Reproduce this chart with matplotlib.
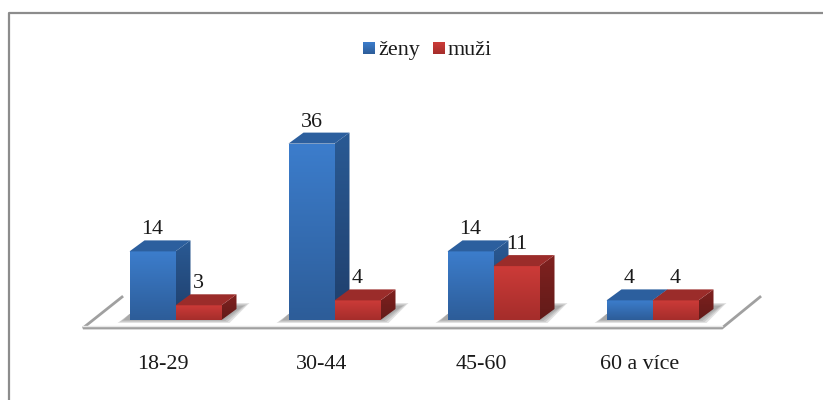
import numpy as np
import matplotlib
matplotlib.use('Agg')
import matplotlib.pyplot as plt
from matplotlib.colors import LinearSegmentedColormap
from matplotlib.patches import Polygon, Rectangle

categories = ['18-29', '30-44', '45-60', '60 a více']
zeny = [14, 36, 14, 4]
muzi = [3, 4, 11, 4]

plt.rcParams['font.family'] = ['Liberation Serif', 'DejaVu Serif']

W, H = 823, 400
px_x = 159.0 # pixels for one category
px_y = 4.9 # pixels for one person
x0, y0 = 175.5, 320 # where first group / zero line sit
bar_w = 46 / px_x
dx = 15 / px_x # 3d depth
dy = 11 / px_y
fs = 15.8
txt = '#1a1a1a'


def X(px):
    return (px - x0) / px_x


def Y(py):
    return (y0 - py) / px_y


def gradient(patch, c_top, c_bot, ext, z):
    # fills a patch with a vertical gradient
    cm = LinearSegmentedColormap.from_list('g', [c_top, c_bot])
    im = ax.imshow(np.linspace(0, 1, 64).reshape(-1, 1), cmap=cm, aspect='auto',
                   extent=ext, origin='upper', zorder=z, interpolation='bilinear')
    im.set_clip_path(patch)


def bar3d(x, v, front, side, top, z):
    # front face from the library's bar, side and top added as polygons
    b = ax.bar(x, v, width=bar_w, align='edge', color='none', linewidth=0, zorder=z)[0]
    gradient(b, front[0], front[1], [x, x + bar_w, 0, v], z)
    s = Polygon([(x + bar_w, 0), (x + bar_w + dx, dy), (x + bar_w + dx, v + dy), (x + bar_w, v)],
                closed=True, fc='none', ec='none', zorder=z)
    ax.add_patch(s)
    gradient(s, side[0], side[1], [x + bar_w, x + bar_w + dx, 0, v + dy], z)
    ax.add_patch(Polygon([(x, v), (x + dx, v + dy), (x + bar_w + dx, v + dy), (x + bar_w, v)],
                         closed=True, fc=top, ec='none', zorder=z))


fig = plt.figure(figsize=(W / 100, H / 100), dpi=100)
ax = fig.add_axes([0, 0, 1, 1])
ax.axis('off')

# outer border, only top and left are visible in the picture
ax.plot([X(9), X(9), X(823)], [Y(400), Y(13), Y(13)], color='#8c8c8c', lw=1.6, zorder=0)

# floor
ax.plot([X(122), X(83), X(722), X(760)], [Y(297), Y(328), Y(328), Y(297)], color='#a0a0a0', lw=2,
        solid_joinstyle='miter', zorder=1)
ax.plot([X(83), X(722)], [Y(326), Y(326)], color='#e8e8e8', lw=1, zorder=1)

blue = dict(front=('#3c7dcc', '#2d5d99'), side=('#2a5a94', '#1f3f6c'), top='#2c5f9e')
red = dict(front=('#cc3b38', '#a52d2b'), side=('#80211f', '#621b19'), top='#9b2c2a')

for i, (a, b) in enumerate(zip(zeny, muzi)):
    # soft shadow on floor, several thin layers
    for grow in [6, 4, 2, 0]:
        ax.add_patch(Polygon([(i - bar_w - (6 + grow) / px_x, Y(320 + grow / 2)),
                              (i + bar_w + (2 + grow) / px_x, Y(320 + grow / 2)),
                              (i + bar_w + (22 + grow) / px_x, Y(306 - grow / 2)),
                              (i + bar_w + 5 / px_x, Y(306 - grow / 2)),
                              (i - bar_w, Y(314))],
                             closed=True, fc='#707070', alpha=0.2, ec='none', zorder=1.5))
    bar3d(i - bar_w, a, z=3 + 2 * i, **blue)
    bar3d(i, b, z=4 + 2 * i, **red)
    ax.text(i - bar_w / 2, a + dy + 1 / px_y, str(a), ha='center', va='bottom', fontsize=fs, color=txt, zorder=30)
    ax.text(i + bar_w / 2, b + dy + 1 / px_y, str(b), ha='center', va='bottom', fontsize=fs, color=txt, zorder=30)
    ax.text(i - 12.5 / px_x, Y(364.5), categories[i], ha='center', va='center', fontsize=fs, color=txt)

# legend
for lx, lab, c in [(363, 'ženy', blue['front']), (433, 'muži', red['front'])]:
    r = Rectangle((X(lx), Y(54)), 12 / px_x, 12 / px_y, fc='none', ec='none', zorder=5)
    ax.add_patch(r)
    gradient(r, c[0], c[1], [X(lx), X(lx + 12), Y(54), Y(42)], 5)
    ax.text(X(lx + 15), Y(50.5), lab, ha='left', va='center', fontsize=fs, color=txt)

ax.set_xlim(X(0), X(W))
ax.set_ylim(Y(H), Y(0))
fig.savefig('out.png', dpi=100)
